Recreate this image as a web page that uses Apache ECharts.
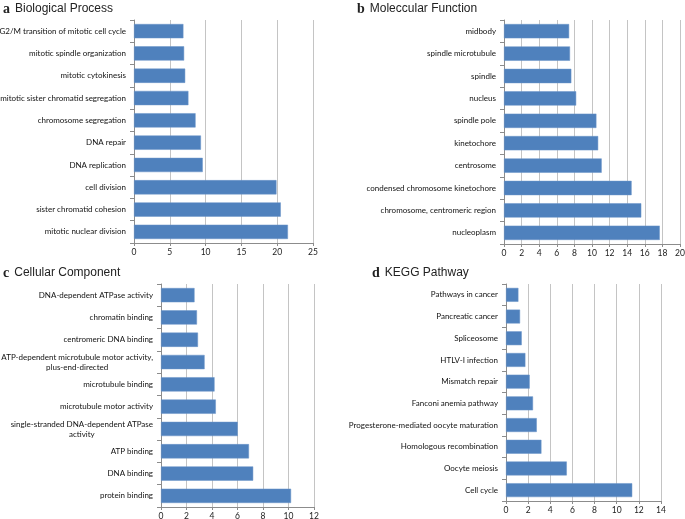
<!DOCTYPE html>
<html><head><meta charset="utf-8">
<script src="https://cdn.jsdelivr.net/npm/echarts@6/dist/echarts.min.js"></script>
<style>html,body{margin:0;padding:0;background:#fff}#c{width:685px;height:519px}</style>
</head><body><div id="c"></div>
<script>
// Panel a: Biological Process (top to bottom)
const bpCategories = ['G2/M transition of mitotic cell cycle','mitotic spindle organization','mitotic cytokinesis','mitotic sister chromatid segregation','chromosome segregation','DNA repair','DNA replication','cell division','sister chromatid cohesion','mitotic nuclear division'];
const bpValues = [6.9, 7.0, 7.15, 7.6, 8.6, 9.35, 9.6, 19.9, 20.5, 21.5];
const bpTicks = {min: 0, max: 25, interval: 5};

// Panel b: Moleccular Function
const mfCategories = ['midbody','spindle microtubule','spindle','nucleus','spindle pole','kinetochore','centrosome','condensed chromosome kinetochore','chromosome, centromeric region','nucleoplasm'];
const mfValues = [7.4, 7.5, 7.65, 8.2, 10.5, 10.7, 11.1, 14.5, 15.6, 17.7];
const mfTicks = {min: 0, max: 20, interval: 2};

// Panel c: Cellular Component
const ccCategories = ['DNA-dependent ATPase activity','chromatin binding','centromeric DNA binding','ATP-dependent microtubule motor activity,\nplus-end-directed','microtubule binding','microtubule motor activity','single-stranded DNA-dependent ATPase\nactivity','ATP binding','DNA binding','protein binding'];
const ccValues = [2.63, 2.82, 2.9, 3.42, 4.2, 4.3, 6.02, 6.9, 7.23, 10.2];
const ccTicks = {min: 0, max: 12, interval: 2};

// Panel d: KEGG Pathway
const kgCategories = ['Pathways in cancer','Pancreatic cancer','Spliceosome','HTLV-I infection','Mismatch repair','Fanconi anemia pathway','Progesterone-mediated oocyte maturation','Homologous recombination','Oocyte meiosis','Cell cycle'];
const kgValues = [1.12, 1.27, 1.42, 1.75, 2.14, 2.44, 2.78, 3.2, 5.49, 11.4];
const kgTicks = {min: 0, max: 14, interval: 2};

const panels = [
  {letter:'a', name:'Biological Process', cats:bpCategories, vals:bpValues, ticks:bpTicks, grid:{left:134, top:20, width:179, height:223}, title:{left:3, top:0}},
  {letter:'b', name:'Moleccular Function', cats:mfCategories, vals:mfValues, ticks:mfTicks, grid:{left:504, top:20, width:176, height:224}, title:{left:357, top:0}},
  {letter:'c', name:'Cellular Component', cats:ccCategories, vals:ccValues, ticks:ccTicks, grid:{left:161, top:284, width:153, height:223}, title:{left:3, top:264}},
  {letter:'d', name:'KEGG Pathway', cats:kgCategories, vals:kgValues, ticks:kgTicks, grid:{left:506, top:284, width:155, height:217}, title:{left:372, top:264}}
];

const labelFont = 'Lato';
const labelSize = 8;
const chart = echarts.init(document.getElementById('c'), null, {renderer:'canvas'});
const option = {
  animation:false,
  backgroundColor:'#fff',
  title: panels.map(p => ({
    text: '{l|' + p.letter + '} {t|' + p.name + '}',
    left: p.title.left, top: p.title.top,
    padding: 0,
    textStyle: {
      fontWeight:'normal',
      rich: {
        l: {fontFamily:'Liberation Serif', fontWeight:'bold', fontSize:14, color:'#222'},
        t: {fontFamily:'Liberation Sans', fontWeight:'normal', fontSize:12, color:'#222'}
      }
    }
  })),
  grid: panels.map(p => Object.assign({containLabel:false, outerBoundsMode:'none'}, p.grid)),
  xAxis: panels.map((p,i) => ({
    type:'value', gridIndex:i, min:p.ticks.min, max:p.ticks.max, interval:p.ticks.interval,
    axisLine:{show:true, lineStyle:{color:'#8c8c8c', width:1}},
    axisTick:{show:true, length:3, lineStyle:{color:'#8c8c8c'}},
    axisLabel:{fontFamily:labelFont, fontSize:8.5, color:'#222', margin:5},
    splitLine:{show:true, lineStyle:{color:'#c4c4c4', width:1}}
  })),
  yAxis: panels.map((p,i) => ({
    type:'category', gridIndex:i, data:p.cats, inverse:true,
    axisLine:{show:true, lineStyle:{color:'#8c8c8c', width:1}},
    axisTick:{show:true, length:4, alignWithLabel:false, lineStyle:{color:'#8c8c8c'}},
    axisLabel:{
      fontFamily:labelFont, fontSize:labelSize, color:'#111', margin:8, lineHeight:10,
      formatter: v => v.indexOf('\n') >= 0 ? v.split('\n').map(s => '{c|' + s + '}').join('\n') : v,
      rich:{c:{fontFamily:labelFont, fontSize:labelSize, color:'#111', align:'center', lineHeight:10}}
    }
  })),
  series: panels.map((p,i) => ({
    type:'bar', xAxisIndex:i, yAxisIndex:i, data:p.vals, barWidth:'64%',
    itemStyle:{color:'#4f81bd', borderColor:'#6a95c9', borderWidth:0.5}
  }))
};
chart.setOption(option);
</script></body></html>
